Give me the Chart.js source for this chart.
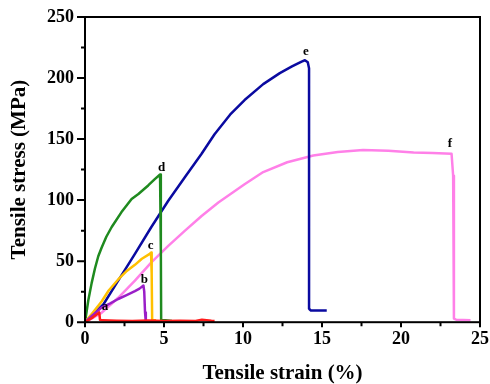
<!DOCTYPE html>
<html>
<head>
<meta charset="utf-8">
<script src="https://cdn.jsdelivr.net/npm/chart.js@4"></script>
<style>
  html, body { margin: 0; padding: 0; background: #fff; }
  #wrap { width: 490px; height: 384px; }
</style>
</head>
<body>
<div id="wrap"><canvas id="c"></canvas></div>
<script>
// stress-strain curves, strain (%) vs stress (MPa)
const strainA = [0, 0.5, 0.9, 0.95, 1.1, 2, 3, 4, 5, 6, 7, 7.4, 8, 8.2];
const stressA = [0, 4, 8, 2, 1.5, 1.2, 1, 1.3, 1, 1.2, 1, 2, 1.2, 1];

const strainB = [0, 0.5, 1.05, 1.6, 2.1, 2.6, 3.16, 3.45, 3.7, 3.75, 3.8, 3.85];
const stressB = [0, 6, 12, 15.5, 19, 22, 25.5, 27.5, 30, 25, 8, 0];

const strainC = [0, 0.5, 1.05, 1.5, 2.1, 2.6, 3.16, 3.6, 4.1, 4.18, 4.22, 4.25, 4.35, 4.5];
const stressC = [0, 8, 17, 26, 35, 41.5, 47, 52, 56, 57, 40, 2, 1.5, 1.5];

const strainD = [0, 0.21, 0.42, 0.63, 0.84, 1.05, 1.35, 1.69, 2.3, 2.95, 3.38, 4, 4.4, 4.75, 4.8, 4.82, 5.1, 5.5];
const stressD = [0, 18, 32, 44, 54, 61, 70, 78, 90, 101, 105, 112, 117, 121, 60, 1.5, 1.5, 1];

const strainE = [0, 1.16, 2.1, 3.16, 4.2, 5.27, 6.33, 7.38, 8.2, 9.18, 10.1, 11.28, 12.33, 13.1, 13.71, 13.92, 14.1, 14.18, 14.18, 14.3, 14.6, 15.3];
const stressE = [0, 14.5, 34, 56, 78, 99.5, 119, 138, 154, 170, 182, 195, 204, 209.5, 213.5, 214.6, 213, 208, 11, 9.5, 9.5, 9.5];

const strainF = [0, 1.05, 2.1, 3.16, 4.2, 5.27, 6.33, 7.38, 8.44, 10.1, 11.28, 12.8, 14.45, 16, 17.6, 19.2, 20.8, 22, 23.2, 23.3, 23.35, 23.5, 24.4];
const stressF = [0, 7.7, 20, 34, 49, 62.5, 75, 87, 98, 113, 123, 131, 136.5, 139.5, 141, 140.5, 139, 138.5, 138, 120, 3, 2, 1.5];

const seriesColors = ['#ff1a1a', '#9a1fc8', '#ffc000', '#1f8a1f', '#0a0aa0', '#ff80e8'];
const curveLabels = ['a', 'b', 'c', 'd', 'e', 'f'];
const labelAt = [[1.27, 13], [3.75, 35], [4.15, 62.5], [4.85, 127], [13.98, 221.5], [23.1, 146]];

const xTicks = [0, 5, 10, 15, 20, 25];
const yTicks = [0, 50, 100, 150, 200, 250];

const strains = [strainA, strainB, strainC, strainD, strainE, strainF];
const stresses = [stressA, stressB, stressC, stressD, stressE, stressF];

const datasets = strains.map((xs, i) => ({
    label: curveLabels[i],
    data: xs.map((x, j) => ({ x: x, y: stresses[i][j] })),
    borderColor: seriesColors[i],
    borderWidth: 2.5,
    pointRadius: 0,
    showLine: true,
    tension: 0,
    borderJoinStyle: 'round',
    fill: false
}));

const serif = '"Liberation Serif", "Times New Roman", serif';

// frame, outward ticks (major + minor) and curve letters
const framePlugin = {
    id: 'frame',
    afterDraw(chart) {
        const ctx = chart.ctx;
        const a = chart.chartArea;
        const xs = chart.scales.x, ys = chart.scales.y;
        ctx.save();
        ctx.strokeStyle = '#000';
        ctx.lineWidth = 2;
        ctx.strokeRect(a.left, a.top, a.right - a.left, a.bottom - a.top);

        ctx.beginPath();
        for (let v = 0; v <= 25; v += 2.5) {
            const px = xs.getPixelForValue(v);
            const len = (v % 5 === 0) ? 5 : 4;
            ctx.moveTo(px, a.bottom);
            ctx.lineTo(px, a.bottom + len);
        }
        for (let v = 0; v <= 250; v += 25) {
            const py = ys.getPixelForValue(v);
            const len = (v % 50 === 0) ? 8 : 4;
            ctx.moveTo(a.left, py);
            ctx.lineTo(a.left - len, py);
        }
        ctx.stroke();

        ctx.fillStyle = '#000';
        ctx.font = 'bold 13px ' + serif;
        ctx.textAlign = 'center';
        ctx.textBaseline = 'middle';
        curveLabels.forEach((t, i) => {
            ctx.fillText(t, xs.getPixelForValue(labelAt[i][0]), ys.getPixelForValue(labelAt[i][1]));
        });
        ctx.restore();
    }
};

// let the layout padding alone decide the plot edges
function noOverflow(s) {
    s.paddingLeft = 0;
    s.paddingRight = 0;
    s.paddingTop = 0;
    s.paddingBottom = 0;
}

new Chart(document.getElementById('c'), {
    type: 'scatter',
    data: { datasets: datasets },
    options: {
        responsive: true,
        maintainAspectRatio: false,
        animation: false,
        layout: { padding: { top: 17, right: 10, left: 9, bottom: 0 } },
        plugins: {
            legend: { display: false },
            tooltip: { enabled: false }
        },
        scales: {
            x: {
                type: 'linear',
                min: 0,
                max: 25,
                afterBuildTicks: s => { s.ticks = xTicks.map(v => ({ value: v })); },
                afterFit: noOverflow,
                grid: { display: false, drawTicks: false, tickLength: 0 },
                border: { display: false },
                ticks: {
                    color: '#000',
                    padding: 7,
                    maxRotation: 0,
                    font: { family: serif, size: 18, weight: 'bold', lineHeight: 1.1 }
                },
                title: {
                    display: true,
                    text: 'Tensile strain (%)',
                    color: '#000',
                    padding: { top: 7, bottom: 0 },
                    font: { family: serif, size: 21, weight: 'bold', lineHeight: 1 }
                }
            },
            y: {
                min: 0,
                max: 250,
                afterBuildTicks: s => { s.ticks = yTicks.map(v => ({ value: v })); },
                afterFit: noOverflow,
                grid: { display: false, drawTicks: false, tickLength: 0 },
                border: { display: false },
                ticks: {
                    color: '#000',
                    padding: 11,
                    font: { family: serif, size: 18, weight: 'bold' }
                },
                title: {
                    display: true,
                    text: 'Tensile stress (MPa)',
                    color: '#000',
                    padding: { top: 0, bottom: 6 },
                    font: { family: serif, size: 21, weight: 'bold', lineHeight: 1 }
                }
            }
        }
    },
    plugins: [framePlugin]
});
</script>
</body>
</html>
